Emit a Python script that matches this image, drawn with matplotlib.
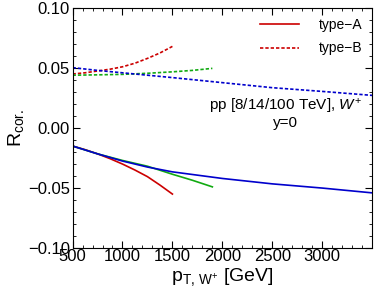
import numpy as np
import matplotlib.pyplot as plt
from matplotlib.ticker import MultipleLocator

plt.rcParams['font.family'] = ['Liberation Sans', 'DejaVu Sans']
plt.rcParams['mathtext.fontset'] = 'custom'
plt.rcParams['mathtext.rm'] = 'Liberation Sans'
plt.rcParams['mathtext.it'] = 'Liberation Sans:italic'

# values
pt_red = [500, 625, 750, 875, 1000, 1125, 1250, 1375, 1500]
pt_green = [500, 750, 1000, 1250, 1500, 1700, 1900]
pt_blue = [500, 750, 1000, 1250, 1500, 2000, 2500, 3000, 3500]

red_a = [-0.015, -0.018, -0.0215, -0.0255, -0.030, -0.035, -0.0405, -0.0475, -0.055]
green_a = [-0.015, -0.0215, -0.027, -0.0318, -0.0385, -0.0435, -0.049]
blue_a = [-0.015, -0.0215, -0.0275, -0.0325, -0.0365, -0.042, -0.0465, -0.050, -0.054]

red_b = [0.045, 0.046, 0.0475, 0.049, 0.051, 0.054, 0.058, 0.0625, 0.068]
green_b = [0.044, 0.0443, 0.0447, 0.0456, 0.0468, 0.048, 0.0497]
blue_b = [0.0503, 0.048, 0.046, 0.044, 0.042, 0.0378, 0.0336, 0.0305, 0.0272]

dot = (0, (2, 1.2))

fig = plt.figure(figsize=(3.74, 2.95), dpi=100)
ax = fig.add_axes([0.194, 0.159, 0.801, 0.814])

ax.plot(pt_red, red_a, color='#cc0000', lw=1.2, label='type\u2212A')
ax.plot(pt_red, red_b, color='#cc0000', lw=1.2, ls=dot, label='type\u2212B')
ax.plot(pt_green, green_a, color='#11aa11', lw=1.2)
ax.plot(pt_green, green_b, color='#11aa11', lw=1.2, ls=dot)
ax.plot(pt_blue, blue_a, color='#0000cc', lw=1.2)
ax.plot(pt_blue, blue_b, color='#0000cc', lw=1.2, ls=dot)

ax.set_xlim(500, 3500)
ax.set_ylim(-0.1, 0.1)
ax.set_xticks([500, 1000, 1500, 2000, 2500, 3000])
ax.set_yticks([-0.1, -0.05, 0.0, 0.05, 0.1])
ax.set_yticklabels(['\u22120.10', '\u22120.05', '0.00', '0.05', '0.10'])
ax.xaxis.set_minor_locator(MultipleLocator(100))
ax.yaxis.set_minor_locator(MultipleLocator(0.01))
ax.tick_params(which='both', direction='in', top=True, right=True, labelsize=12)
ax.tick_params(which='major', length=5, width=0.8)
ax.tick_params(which='minor', length=2.5, width=0.6)
ax.tick_params(axis='x', pad=1)
ax.tick_params(axis='y', pad=2)

ax.set_xlabel(r'$\mathrm{p_{T,\,W^{+}}}$ [GeV]', fontsize=14, labelpad=1)
ax.set_ylabel(r'$\mathrm{R_{cor.}}$', fontsize=14, labelpad=1)

ax.text(0.71, 0.59, r'pp [8/14/100 TeV], $\mathit{W}^{+}$', transform=ax.transAxes,
        ha='center', va='center', fontsize=11)
ax.text(0.71, 0.52, 'y=0', transform=ax.transAxes, ha='center', va='center', fontsize=11)

ax.legend(loc='upper right', frameon=False, fontsize=10, handlelength=2.8,
          handletextpad=1.4, labelspacing=0.7, borderaxespad=0.3)

fig.savefig('out.png', dpi=100)
